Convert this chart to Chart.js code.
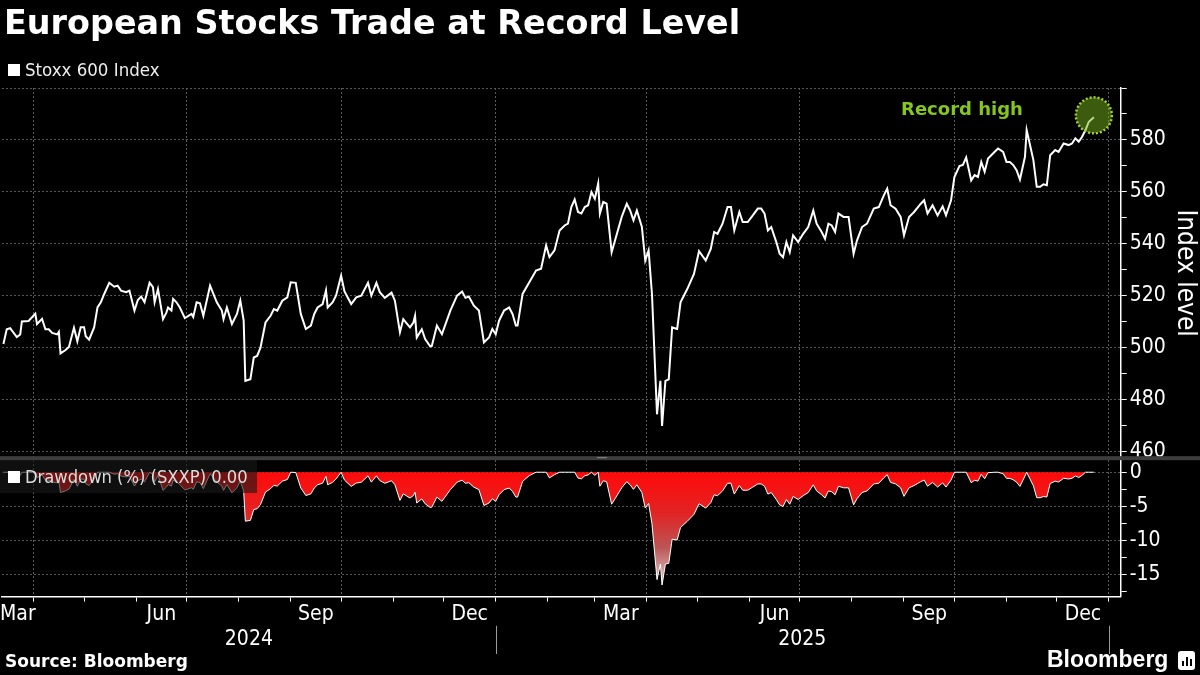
<!DOCTYPE html>
<html>
<head>
<meta charset="utf-8">
<script src="https://cdn.jsdelivr.net/npm/chart.js@4.4.1/dist/chart.umd.min.js"></script>
<style>
  body { margin: 0; background: #000; }
  #wrap { position: relative; width: 1200px; height: 675px; background: #000; overflow: hidden;
          font-family: 'DejaVu Sans Condensed', 'DejaVu Sans', sans-serif; color: #fff; }
  #chart { position: absolute; left: 0; top: 0; }
  .title { position: absolute; left: 4px; top: 3px; font: bold 33.4px 'DejaVu Sans', sans-serif; white-space: nowrap; }
  .legend { position: absolute; left: 8px; top: 59px; font-size: 18.5px; line-height: 22px; color: #eee; }
  .sq { display: inline-block; width: 12px; height: 12px; background: #fff; margin-right: 5px; vertical-align: 0px; }
  .ddlegend { position: absolute; left: 0; top: 460px; width: 257px; height: 33px; line-height: 33px;
              padding-left: 8px; box-sizing: border-box; background: rgba(25,25,25,0.62);
              font-size: 18.2px; color: #ddd; white-space: nowrap; }
  .source { position: absolute; left: 5px; top: 651px; font: bold 17px 'DejaVu Sans', sans-serif; }
  .logo { position: absolute; left: 1047px; top: 646px; font: bold 23px 'Liberation Sans', sans-serif; }
  .icon { position: absolute; left: 1178px; top: 651px; width: 17px; height: 19px; background: #fff; border-radius: 3px; }
  .icon i { position: absolute; bottom: 4px; width: 2px; background: #000; }
</style>
</head>
<body>
<div id="wrap">
  <canvas id="chart" width="1200" height="675"></canvas>
  <div class="title">European Stocks Trade at Record Level</div>
  <div class="legend"><span class="sq"></span>Stoxx 600 Index</div>
  <div class="ddlegend"><span class="sq"></span>Drawdown (%) (SXXP) 0.00</div>
  <div class="source">Source: Bloomberg</div>
  <div class="logo">Bloomberg</div>
  <div class="icon"><i style="left:4px;height:5px"></i><i style="left:8px;height:9px"></i><i style="left:12px;height:7px"></i></div>
</div>
<script>
// Stoxx 600 closes, x = days since 2024-01-01
var dayIdx = [
  73,75,77,81,83,84,88,92,93,96,98,100,102,105,106,107,110,112,115,117,119,121,122,124,127,129,131,133,136,139,
  141,143,146,148,151,153,155,157,160,162,163,165,168,170,171,173,174,176,178,181,185,186,188,190,192,196,200,203,204,206,
  209,212,214,216,217,220,222,224,226,229,232,234,236,239,242,244,247,250,253,256,258,260,263,265,266,269,271,274,276,280,
  283,286,290,292,295,297,300,304,306,309,311,313,315,317,318,319,322,324,327,328,331,334,339,343,346,348,350,353,356,359,
  362,364,366,368,371,374,376,378,379,382,386,390,393,396,398,401,404,407,409,411,413,415,417,419,421,423,425,427,428,430,
  432,435,437,441,444,446,448,450,453,455,457,459,462,464,465,467,469,471,474,476,480,484,487,491,494,496,498,501,504,506,
  508,511,513,516,519,522,524,526,528,530,533,535,537,539,541,543,546,549,552,555,557,560,562,564,566,568,570,573,576,579,
  581,584,587,591,594,597,599,601,604,607,609,612,615,619,621,623,626,629,632,634,637,639,642,644,646,649,651,653,655,657,
  659,663,665,668,670,672,674,676,678,681,682,684,686,688,690,692,694,696,699,701,704,707,709,711,713,715,717,719,722
];
var level = [
  501.3,507,507.4,504,505,510,510.2,513,509,511,507,507,505.6,505,506,497.7,499,500.2,507.6,502.4,507.8,507.8,504.3,503,507.7,515.4,517.4,520.6,524.9,523.4,
  523.8,521.9,521.3,521.9,514.2,518.3,519.6,517.4,524.9,523.2,517.4,522.5,510.9,513.4,515.4,514.2,518.7,517.4,515.4,511.3,512.9,511.7,517.4,517,512.2,523.8,517.4,514.2,510.9,515.4,
  509,512.9,518,510.3,487.1,487.7,496.1,496.7,499.9,509.6,512.2,514.8,514.2,518,519.3,525.1,524.9,512.9,507.1,508.4,512.9,515.4,516.7,522,515.4,517.4,520,527.7,521.6,516.7,
  519.3,519.9,524.9,520,524.9,521.3,519.1,521.1,518,505.8,510.9,509.3,507.7,509.6,512.2,503.8,507,503.2,500.4,500.6,508.4,505.1,514.2,520,521.5,519.1,519.6,516.1,514.2,501.9,
  503.8,507.1,505.1,510.3,514.2,515.4,512.9,508.4,508.4,520.6,525.1,529.6,530.3,539.3,534.8,537.4,545.1,547,547.7,554.1,557,552.2,551.6,554.1,554.8,559.9,557.3,563.2,551.6,556.1,
  555.4,536.7,541.2,550.3,555.4,552.8,549,552.8,546.4,533.5,537.4,520.6,474.2,487.1,469.7,487.1,487.7,507.7,507.1,517.4,522.5,528.3,537.1,533.5,538,544.5,543.8,547.7,554.1,554.1,
  545.1,552.2,548.3,548.3,550.9,553.5,553.5,551.6,545.1,546.4,540.6,536.1,534.8,540.6,536.7,543.2,540.6,543.8,546.4,552.8,547.7,544.5,541.9,547.7,547,544.5,551.6,550.3,550.3,536.1,
  541.2,546.4,547.7,553.5,554.1,558.6,561.2,554.8,553.5,550.3,543.2,550.3,552.2,555.4,556.7,551.6,554.8,550.9,554.4,550.9,556.7,565.7,569.9,570.3,573.2,564.4,566.4,565.7,571.5,567.7,
  572.8,575.4,576.7,575.4,571.5,571.5,570.3,568.3,564.7,573.5,583.8,578,572.2,561.9,561.9,562.9,562.5,574.1,576.1,575.4,578.6,578,578.6,580.6,579.3,581.2,583.8,587,588.7
];

// axis labels
var monthLabels = ['Mar', 'Jun', 'Sep', 'Dec', 'Mar', 'Jun', 'Sep', 'Dec'];
var labelMonths = [[2024, 3], [2024, 6], [2024, 9], [2024, 12], [2025, 3], [2025, 6], [2025, 9], [2025, 12]];
var yearLabels = ['2024', '2025'];
var levelTicks = [460, 480, 500, 520, 540, 560, 580];
var drawdownTicks = [0, -5, -10, -15];

function dayOf(y, m, d) {
  return (Date.UTC(y, m - 1, d) - Date.UTC(2024, 0, 1)) / 864e5;
}

var xMin = 72.2, xMax = 738;

// drawdown from running high of the index
var peak = 0;
var drawdown = level.map(function (v) {
  peak = Math.max(peak, v);
  return (v / peak - 1) * 100;
});

var levelPts = dayIdx.map(function (d, i) { return { x: d, y: level[i] }; });
var ddPts = dayIdx.map(function (d, i) { return { x: d, y: drawdown[i] }; });

// month starts for tick marks
var monthStarts = [];
for (var y = 2024; y <= 2026; y++) {
  for (var m = 1; m <= 12; m++) {
    var v = dayOf(y, m, 1);
    if (v > xMin && v <= xMax) monthStarts.push({ value: v, month: m });
  }
}
// month / year labels centred on their visible span
var monthCentres = labelMonths.map(function (p) {
  var a = Math.max(dayOf(p[0], p[1], 1), xMin);
  var b = Math.min(dayOf(p[0], p[1] + 1, 1), xMax);
  return (a + b) / 2;
});
var yearCentres = yearLabels.map(function (yl) {
  var yr = +yl;
  return (Math.max(dayOf(yr, 1, 1), xMin) + Math.min(dayOf(yr + 1, 1, 1), xMax)) / 2;
});

var FONT = "'DejaVu Sans Condensed', 'DejaVu Sans', sans-serif";
var GRID = '#5a5a5a';

var extras = {
  id: 'extras',
  afterDatasetsDraw: function (chart) {
    var c = chart.ctx, sx = chart.scales.x, sy = chart.scales.y;
    // record high marker on last point
    var n = dayIdx.length - 1;
    var px = sx.getPixelForValue(dayIdx[n]), py = sy.getPixelForValue(level[n]);
    c.save();
    c.beginPath();
    c.arc(px, py - 2, 18, 0, Math.PI * 2);
    c.fillStyle = 'rgba(122,181,29,0.5)';
    c.fill();
    c.setLineDash([2, 2]);
    c.lineWidth = 2.5;
    c.strokeStyle = '#9fd13a';
    c.stroke();
    c.setLineDash([]);
    c.fillStyle = '#85c51f';
    c.font = "bold 18px 'DejaVu Sans', sans-serif";
    c.textAlign = 'right';
    c.textBaseline = 'middle';
    c.fillText('Record high', px - 71, py - 7);
    c.restore();
  },
  afterDraw: function (chart) {
    var c = chart.ctx, sx = chart.scales.x, sy = chart.scales.y, syr = chart.scales.xy;
    c.save();
    // pane separator
    c.fillStyle = '#3d3d3d';
    c.fillRect(0, sy.bottom - 2, chart.width, 4);
    c.fillStyle = '#8a8a8a';
    c.fillRect(597, sy.bottom - 1, 10, 1);
    // year dividers
    c.strokeStyle = '#9a9a9a';
    c.lineWidth = 1;
    [dayOf(2025, 1, 1), dayOf(2026, 1, 1)].forEach(function (d) {
      var x = Math.round(sx.getPixelForValue(d)) + 0.5;
      c.beginPath();
      c.moveTo(x, syr.top - 1);
      c.lineTo(x, syr.bottom + 2);
      c.stroke();
    });
    c.restore();
  }
};

var ctx = document.getElementById('chart').getContext('2d');
var myChart = new Chart(ctx, {
  type: 'line',
  data: {
    datasets: [{
      label: 'Stoxx 600 Index',
      data: levelPts,
      yAxisID: 'y',
      borderColor: '#ffffff',
      borderWidth: 2,
      pointRadius: 0,
      tension: 0
    }, {
      label: 'Drawdown (%) (SXXP)',
      data: ddPts,
      yAxisID: 'y2',
      borderColor: '#ffffff',
      borderWidth: 1,
      pointRadius: 0,
      tension: 0,
      fill: 'origin',
      backgroundColor: function (context) {
        var ch = context.chart;
        if (!ch.chartArea || !ch.scales.y2) return '#f01010';
        var s = ch.scales.y2;
        var g = ch.ctx.createLinearGradient(0, s.getPixelForValue(0), 0, s.getPixelForValue(-17));
        g.addColorStop(0, '#ff0a0a');
        g.addColorStop(0.35, '#e22323');
        g.addColorStop(0.65, '#bb5555');
        g.addColorStop(1, '#e8d4d4');
        return g;
      }
    }]
  },
  options: {
    responsive: false,
    animation: false,
    layout: { padding: { top: 88, right: 0, bottom: 23, left: 0 } },
    plugins: { legend: { display: false }, tooltip: { enabled: false } },
    scales: {
      x: {
        type: 'linear', position: 'bottom', min: xMin, max: xMax,
        afterBuildTicks: function (axis) { axis.ticks = monthStarts.map(function (t) { return { value: t.value }; }); },
        ticks: { display: false },
        grid: {
          color: function (c) {
            var t = monthStarts[c.index];
            return t && (t.month - 1) % 3 === 0 ? GRID : 'transparent';
          },
          tickColor: '#ffffff', tickLength: 5, lineWidth: 1
        },
        border: { color: '#ffffff', width: 1.5, dash: [2, 2] }
      },
      xm: {
        type: 'linear', position: 'bottom', min: xMin, max: xMax,
        afterBuildTicks: function (axis) { axis.ticks = monthCentres.map(function (v) { return { value: v }; }); },
        ticks: {
          padding: 0, color: '#ffffff', font: { family: FONT, size: 21 }, maxRotation: 0, autoSkip: false,
          callback: function (v, i) { return monthLabels[i]; }
        },
        grid: { display: false, drawTicks: false },
        border: { display: false }
      },
      xy: {
        type: 'linear', position: 'bottom', min: xMin, max: xMax,
        afterBuildTicks: function (axis) { axis.ticks = yearCentres.map(function (v) { return { value: v }; }); },
        ticks: {
          padding: 0, color: '#ffffff', font: { family: FONT, size: 21 }, maxRotation: 0, autoSkip: false,
          callback: function (v, i) { return yearLabels[i]; }
        },
        grid: { display: false, drawTicks: false },
        border: { display: false }
      },
      y: {
        type: 'linear', position: 'right', stack: 'panes', stackWeight: 369,
        min: 457.3, max: 600,
        afterBuildTicks: function (axis) {
          var t = [];
          for (var v = 460; v <= 600; v += 10) t.push({ value: v });
          axis.ticks = t;
        },
        ticks: {
          padding: 3, color: '#ffffff', font: { family: FONT, size: 21 }, autoSkip: false,
          callback: function (v) { return levelTicks.indexOf(v) >= 0 ? String(v) : ''; }
        },
        grid: {
          color: function (c) { return c.tick && c.tick.value % 20 === 0 ? GRID : 'transparent'; },
          tickColor: '#ffffff', tickLength: 6
        },
        border: { color: '#ffffff', width: 1.5, dash: [2, 2] },
        title: { display: true, text: 'Index level', color: '#ffffff', font: { family: FONT, size: 26 }, padding: { top: 0, bottom: 0 } }
      },
      y2: {
        type: 'linear', position: 'right', stack: 'panes', stackWeight: 138,
        min: -18.3, max: 2.07,
        afterBuildTicks: function (axis) {
          var t = [];
          for (var v = -17.5; v <= 0; v += 2.5) t.push({ value: v });
          axis.ticks = t;
        },
        ticks: {
          padding: 3, color: '#ffffff', font: { family: FONT, size: 21 }, autoSkip: false,
          callback: function (v) { return drawdownTicks.indexOf(v) >= 0 ? String(v) : ''; }
        },
        grid: {
          color: function (c) { return c.tick && c.tick.value % 5 === 0 ? GRID : 'transparent'; },
          tickColor: '#ffffff', tickLength: 6
        },
        border: { color: '#ffffff', width: 1.5, dash: [2, 2] }
      }
    }
  },
  plugins: [extras]
});
</script>
</body>
</html>
